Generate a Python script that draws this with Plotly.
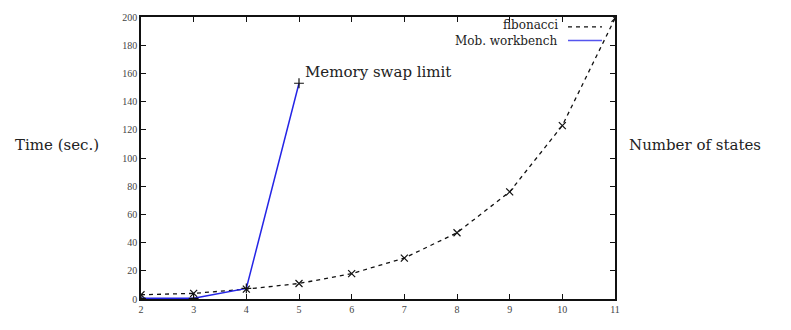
import plotly.graph_objects as go

states = [2, 3, 4, 5, 6, 7, 8, 9, 10, 11]
fibonacci = [3, 4, 7, 11, 18, 29, 47, 76, 123, 199]
mob_states = [2, 3, 4, 5]
mob_workbench = [0.5, 0.5, 7.5, 153]
y_ticks = [0, 20, 40, 60, 80, 100, 120, 140, 160, 180, 200]
x_ticks = [2, 3, 4, 5, 6, 7, 8, 9, 10, 11]

W, H = 791, 330
ML, MR, MT, MB = 141, 176, 11, 31

fig = go.Figure()
fig.add_trace(go.Scatter(
    x=states, y=fibonacci, mode="lines+markers", name="fibonacci",
    line=dict(color="#111111", width=1.3, dash="4px,4px"),
    marker=dict(symbol="x-thin", size=7, line=dict(color="#111111", width=1.2)),
))
fig.add_trace(go.Scatter(
    x=mob_states, y=mob_workbench, mode="lines+markers", name="Mob. workbench",
    line=dict(color="#2525e6", width=1.5),
    marker=dict(symbol="cross-thin", size=7, line=dict(color="#111111", width=1.2)),
))

serif_tick = "Liberation Serif"
serif_lbl = "DejaVu Serif"
lbl_size = 15
leg_size = 12

axis_common = dict(
    showgrid=False, zeroline=False, showline=True, linecolor="#111111", linewidth=1.5,
    mirror="ticks", ticks="inside", ticklen=5, tickwidth=1, tickcolor="#111111",
    tickfont=dict(family=serif_tick, size=10, color="#444444"),
)
fig.update_xaxes(range=[2, 11], tickvals=x_ticks, **axis_common)
fig.update_yaxes(range=[0, 200], tickvals=y_ticks, **axis_common)

pw = W - ML - MR
ph = H - MT - MB

def px_x(p):
    return (p - ML) / pw

def px_y(p):
    return 1 - (p - MT) / ph

annotations = [
    dict(x=px_x(101), y=px_y(142), xref="paper", yref="paper", text="Time (sec.)",
         showarrow=False, xanchor="right", yanchor="middle",
         font=dict(family=serif_lbl, size=lbl_size, color="#222222")),
    dict(x=px_x(627), y=px_y(142), xref="paper", yref="paper", text="Number of states",
         showarrow=False, xanchor="left", yanchor="middle",
         font=dict(family=serif_lbl, size=lbl_size, color="#222222")),
    dict(x=5, y=161, xref="x", yref="y", text="Memory swap limit", xshift=4,
         showarrow=False, xanchor="left", yanchor="middle",
         font=dict(family=serif_lbl, size=lbl_size, color="#222222")),
    dict(x=px_x(559), y=px_y(19), xref="paper", yref="paper", text="fibonacci",
         showarrow=False, xanchor="right", yanchor="middle", borderpad=0,
         font=dict(family=serif_lbl, size=leg_size, color="#222222")),
    dict(x=px_x(559), y=px_y(36), xref="paper", yref="paper", text="Mob. workbench",
         showarrow=False, xanchor="right", yanchor="middle", borderpad=0,
         font=dict(family=serif_lbl, size=leg_size, color="#222222")),
]
shapes = [
    dict(type="line", xref="paper", yref="paper", x0=px_x(568), x1=px_x(602),
         y0=px_y(21), y1=px_y(21), line=dict(color="#111111", width=1.3, dash="4px,4px")),
    dict(type="line", xref="paper", yref="paper", x0=px_x(568), x1=px_x(602),
         y0=px_y(35), y1=px_y(35), line=dict(color="#5555ee", width=1.5)),
]

fig.update_layout(
    width=W, height=H, margin=dict(l=ML, r=MR, t=MT, b=MB),
    paper_bgcolor="white", plot_bgcolor="white", showlegend=False,
    annotations=annotations, shapes=shapes,
)
fig.write_html("out.html")
